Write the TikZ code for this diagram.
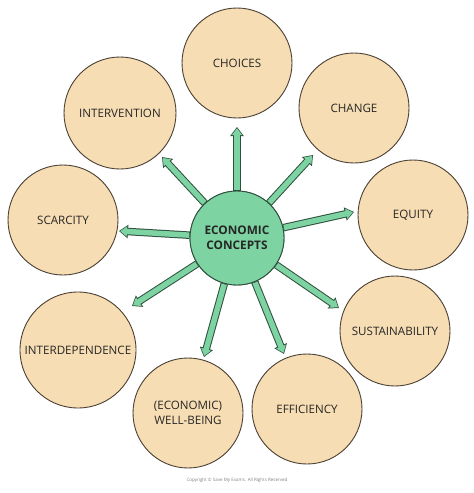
\documentclass[tikz,border=0pt]{standalone}
\usepackage{fontspec}
\setmainfont{Open Sans}
\usetikzlibrary{arrows.meta}
\definecolor{peach}{HTML}{F7DDB4}
\definecolor{circline}{HTML}{4A3F33}
\definecolor{mint}{HTML}{7DD4A2}
\definecolor{darkmint}{HTML}{2E4F3D}
\tikzset{
  concept/.style={circle, draw=circline, line width=0.9pt, fill=peach, minimum size=110pt, inner sep=0pt, align=center, font=\fontsize{11.6}{14.5}\selectfont, text=black!85},
  hub/.style={circle, draw=darkmint, line width=0.9pt, fill=mint, minimum size=94pt, inner sep=0pt, align=center, font=\bfseries\fontsize{11.8}{15.5}\selectfont, text=black!85},
  arrowout/.style={line width=7.5pt, draw=darkmint, -{Triangle[width=13pt,length=9pt]}},
  arrowin/.style={line width=5.5pt, draw=mint, shorten >=1.2pt, shorten <=0.6pt, -{Triangle[width=9.8pt,length=6.8pt]}},
}
\newcommand{\bigarrow}[2]{%
  \draw[arrowout] (#1) -- (#2);
  \draw[arrowin] (#1) -- (#2);
}
\begin{document}
\begin{tikzpicture}[x=1pt,y=-1pt]
\useasboundingbox (0,0) rectangle (474,493);
\fill[white] (0,0) rectangle (474,493);
% outer concepts
\node[concept] (choices) at (237,63) {CHOICES};
\node[concept] (change) at (354,108) {CHANGE};
\node[concept] (equity) at (413,215) {EQUITY};
\node[concept] (sust) at (395,331) {SUSTAINABILITY};
\node[concept] (eff) at (307,409) {EFFICIENCY};
\node[concept] (well) at (188,413) {(ECONOMIC)\\WELL-BEING};
\node[concept, minimum size=116pt] (inter) at (78,350) {INTERDEPENDENCE};
\node[concept] (scar) at (63,220) {SCARCITY};
\node[concept, minimum size=112pt] (interv) at (120,113) {INTERVENTION};
% arrow tips
\coordinate (tchoices) at (237,127);
\coordinate (tchange) at (313,155);
\coordinate (tequity) at (354,212);
\coordinate (tsust) at (339,308);
\coordinate (teff) at (284,354);
\coordinate (twell) at (204,357);
\coordinate (tinter) at (132,306);
\coordinate (tscar) at (119,231);
\coordinate (tinterv) at (162,157);
% hub
\node[hub] (hub) at (237,238) {};
\bigarrow{hub}{tchoices}
\bigarrow{hub}{tchange}
\bigarrow{hub}{tequity}
\bigarrow{hub}{tsust}
\bigarrow{hub}{teff}
\bigarrow{hub}{twell}
\bigarrow{hub}{tinter}
\bigarrow{hub}{tscar}
\bigarrow{hub}{tinterv}
\node[hub, fill=mint] (hub2) at (237,238) {ECONOMIC\\CONCEPTS};
\node[font=\fontsize{4.5}{5}\selectfont, text=black!50] (copy) at (237,480) {Copyright © Save My Exams. All Rights Reserved};
\end{tikzpicture}
\end{document}
